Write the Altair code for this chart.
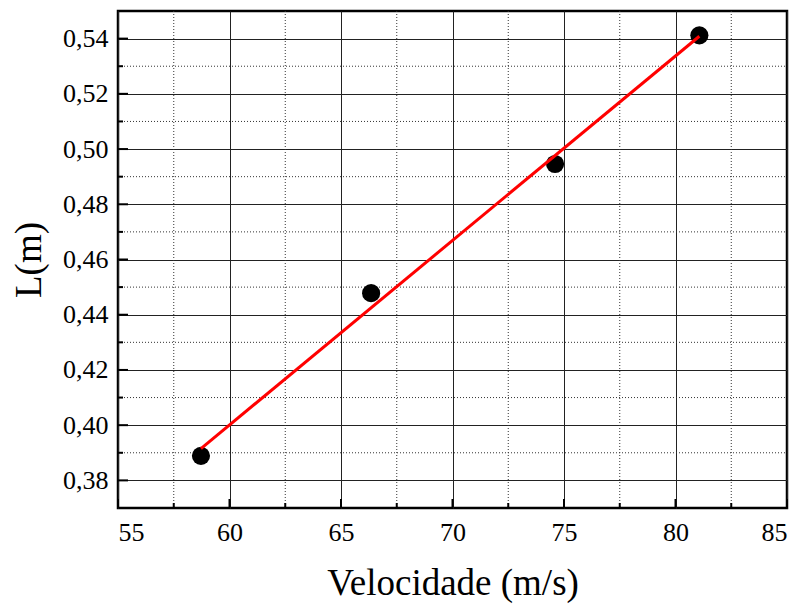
import altair as alt
import pandas as pd

# Data
velocidade = [58.72, 66.35, 74.6, 81.07]
comprimento = [0.3889, 0.4478, 0.4946, 0.5412]

x_major = [55, 60, 65, 70, 75, 80, 85]
x_minor = [57.5, 62.5, 67.5, 72.5, 77.5, 82.5]
y_major = [0.38, 0.40, 0.42, 0.44, 0.46, 0.48, 0.50, 0.52, 0.54]
y_minor = [0.39, 0.41, 0.43, 0.45, 0.47, 0.49, 0.51, 0.53]

W, H = 669, 497
FONT = "Times New Roman, Liberation Serif, serif"

pts = pd.DataFrame({"v": velocidade, "L": comprimento})
xmaj = pd.DataFrame({"v": x_major})
xmin = pd.DataFrame({"v": x_minor})
ymaj = pd.DataFrame({"L": y_major})
ymin = pd.DataFrame({"L": y_minor})

xscale = alt.Scale(domain=[55, 85], nice=False, zero=False)
yscale = alt.Scale(domain=[0.37, 0.55], nice=False, zero=False)

x_axis = alt.Axis(
    values=x_major, grid=True, gridColor="#222222", gridWidth=1,
    ticks=False, tickSize=0, domain=False,
    labelFont=FONT, labelFontSize=26, labelColor="black", labelPadding=11,
    format="d",
    title="Velocidade (m/s)", titleFont=FONT, titleFontSize=37,
    titleFontWeight="normal", titleColor="black",
    titleX=W / 2, titleY=86, titleBaseline="alphabetic", titleAlign="center",
)
y_axis = alt.Axis(
    values=y_major, grid=True, gridColor="#222222", gridWidth=1,
    ticks=False, tickSize=0, domain=False,
    labelFont=FONT, labelFontSize=26, labelColor="black", labelPadding=10,
    labelExpr="replace(format(datum.value, '.2f'), '.', ',')",
    title="L(m)", titleFont=FONT, titleFontSize=37,
    titleFontWeight="normal", titleColor="black",
    titleX=-89, titleY=H / 2, titleAngle=-90, titleBaseline="middle", titleAlign="center",
)

X = lambda: alt.X("v:Q", scale=xscale, axis=x_axis)
Y = lambda: alt.Y("L:Q", scale=yscale, axis=y_axis)

# minor dotted grid
xgrid_minor = alt.Chart(xmin).mark_rule(color="#333333", strokeWidth=1, strokeDash=[1, 2]).encode(
    x=X(), y=alt.value(0), y2=alt.value(H))
ygrid_minor = alt.Chart(ymin).mark_rule(color="#333333", strokeWidth=1, strokeDash=[1, 2]).encode(
    y=Y(), x=alt.value(0), x2=alt.value(W))

# inward ticks
xt_major = alt.Chart(xmaj).mark_rule(color="black", strokeWidth=2).encode(
    x=X(), y=alt.value(H), y2=alt.value(H - 9))
xt_minor = alt.Chart(xmin).mark_rule(color="black", strokeWidth=2).encode(
    x=X(), y=alt.value(H), y2=alt.value(H - 5))
yt_major = alt.Chart(ymaj).mark_rule(color="black", strokeWidth=2).encode(
    y=Y(), x=alt.value(0), x2=alt.value(10))
yt_minor = alt.Chart(ymin).mark_rule(color="black", strokeWidth=2).encode(
    y=Y(), x=alt.value(0), x2=alt.value(5))

points = alt.Chart(pts).mark_circle(color="black", opacity=1, size=330).encode(
    x=X(), y=Y())

fit = alt.Chart(pts).transform_regression("v", "L", method="linear").mark_line(
    color="#ff0000", strokeWidth=3).encode(x=X(), y=Y())

chart = alt.layer(
    xgrid_minor, ygrid_minor, points, fit, xt_major, xt_minor, yt_major, yt_minor
).properties(
    width=W, height=H,
    background="white",
    autosize=alt.AutoSizeParams(type="none"),
    padding={"left": 110, "top": 3, "right": 7, "bottom": 96},
).configure_view(
    stroke="black", strokeWidth=2.5
)

chart.save("out.html", embed_options={"renderer": "svg", "actions": False})
